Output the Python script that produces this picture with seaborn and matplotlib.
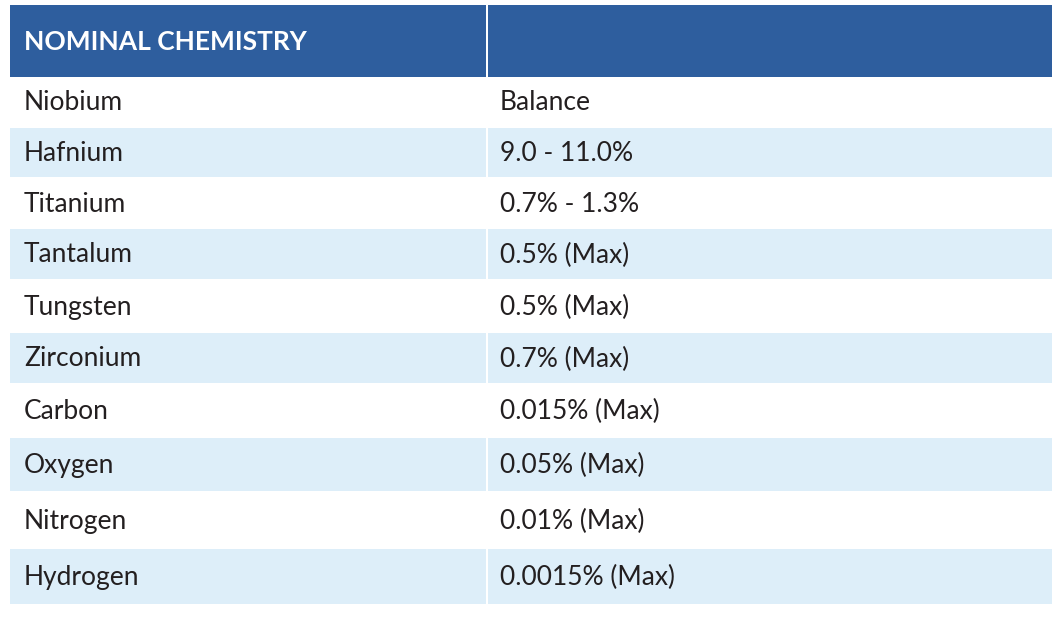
import matplotlib
matplotlib.use("Agg")
import matplotlib.pyplot as plt
import seaborn as sns
from matplotlib.patches import Rectangle

header = ["NOMINAL CHEMISTRY", ""]
elements = ["Niobium", "Hafnium", "Titanium", "Tantalum", "Tungsten",
            "Zirconium", "Carbon", "Oxygen", "Nitrogen", "Hydrogen"]
amounts = ["Balance", "9.0 - 11.0%", "0.7% - 1.3%", "0.5% (Max)", "0.5% (Max)",
           "0.7% (Max)", "0.015% (Max)", "0.05% (Max)", "0.01% (Max)", "0.0015% (Max)"]

sns.set_theme(style="white")
plt.rcParams['font.family'] = ['Lato', 'DejaVu Sans']

W, H = 1058, 623
fig = plt.figure(figsize=(W/100, H/100), dpi=100)
ax = fig.add_axes([0, 0, 1, 1])
ax.set_xlim(0, W); ax.set_ylim(H, 0); ax.axis("off")

left, mid, right = 10, 487, 1052
gap = 2
head_top, head_bot = 5, 77
bounds = [77, 127, 178, 228, 280, 332, 384, 437, 492, 548, 605]
hc = "#2E5E9E"; lc = "#DDEEF9"; tc = "#231F20"

ax.add_patch(Rectangle((left, head_top), mid - left - gap/2, head_bot - head_top, color=hc, lw=0))
ax.add_patch(Rectangle((mid + gap/2, head_top), right - mid - gap/2, head_bot - head_top, color=hc, lw=0))
ax.text(24, (head_top + head_bot)/2 + 1, header[0], color="white", fontsize=19,
        fontweight="bold", va="center", ha="left")

for i, (e, a) in enumerate(zip(elements, amounts)):
    y0, y1 = bounds[i], bounds[i+1]
    if i % 2 == 1:
        ax.add_patch(Rectangle((left, y0 + 1), mid - left - gap/2, y1 - y0 - 2, color=lc, lw=0))
        ax.add_patch(Rectangle((mid + gap/2, y0 + 1), right - mid - gap/2, y1 - y0 - 2, color=lc, lw=0))
    yc = (y0 + y1)/2 + 1
    ax.text(24, yc, e, color=tc, fontsize=19, va="center", ha="left")
    ax.text(500, yc, a, color=tc, fontsize=19, va="center", ha="left")

fig.savefig("out.png", dpi=100, facecolor="white")
